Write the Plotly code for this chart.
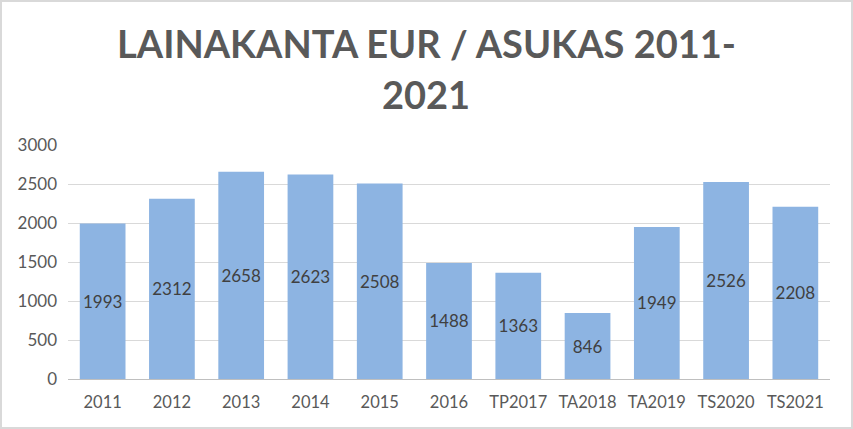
import plotly.graph_objects as go

categories = ["2011", "2012", "2013", "2014", "2015", "2016", "TP2017", "TA2018", "TA2019", "TS2020", "TS2021"]
values = [1993, 2312, 2658, 2623, 2508, 1488, 1363, 846, 1949, 2526, 2208]
y_ticks = [0, 500, 1000, 1500, 2000, 2500, 3000]
title_lines = ["LAINAKANTA EUR / ASUKAS 2011-", "2021"]

fig = go.Figure()
fig.add_trace(go.Bar(
    x=categories,
    y=values,
    marker=dict(color="#8DB4E2", line=dict(width=0)),
    text=[str(v) for v in values],
    textposition="inside",
    insidetextanchor="middle",
    textangle=0,
    textfont=dict(family="Lato", size=17, color="#404040"),
    cliponaxis=False,
    hoverinfo="skip",
))

fig.update_layout(
    width=853,
    height=429,
    margin=dict(l=68, r=23, t=145, b=50),
    paper_bgcolor="white",
    plot_bgcolor="white",
    bargap=0.34,
    showlegend=False,
    uniformtext=dict(minsize=17, mode="show"),
    xaxis=dict(
        showgrid=False,
        showline=True,
        linecolor="#BFBFBF",
        linewidth=1,
        ticks="",
        tickfont=dict(family="Lato", size=16.5, color="#595959"),
        ticklabelstandoff=8,
    ),
    yaxis=dict(
        range=[0, 3000],
        tickvals=y_ticks,
        showgrid=True,
        gridcolor="#D9D9D9",
        gridwidth=1,
        zeroline=False,
        showline=False,
        ticks="",
        tickfont=dict(family="Lato", size=17, color="#595959"),
        ticklabelstandoff=10,
    ),
)

for i, line in enumerate(title_lines):
    fig.add_annotation(
        text="<b>" + line + "</b>",
        xref="paper", yref="paper",
        x=0.47, y=1 + (145 - [43, 94.5][i]) / 234,
        xanchor="center", yanchor="middle",
        showarrow=False,
        font=dict(family="Lato", size=38, color="#595959"),
    )

fig.add_shape(
    type="rect", xref="paper", yref="paper",
    x0=-67 / 762, x1=1 + 22 / 762, y0=-49 / 234, y1=1 + 144 / 234,
    line=dict(color="#D9D9D9", width=2),
    fillcolor="rgba(0,0,0,0)",
)

fig.write_html(
    "out.html",
    config={"displayModeBar": False},
    post_script="document.body.style.margin='0';document.body.style.overflow='hidden';",
)
